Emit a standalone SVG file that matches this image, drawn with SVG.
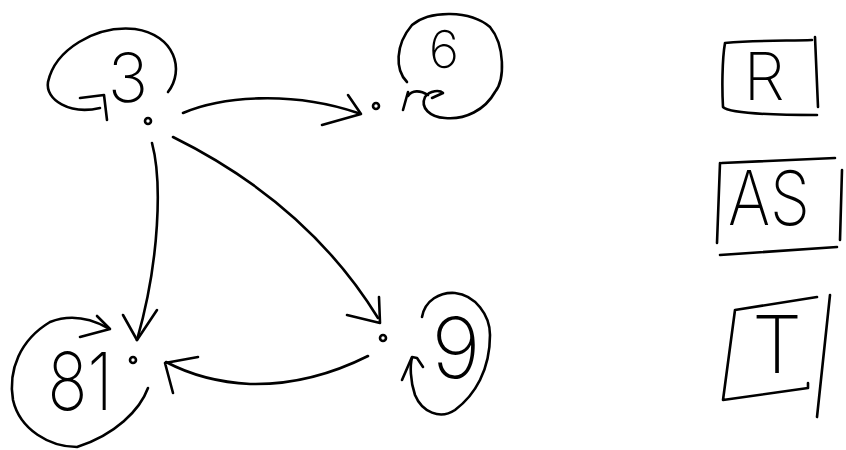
<svg xmlns="http://www.w3.org/2000/svg" width="846" height="450" viewBox="0 0 846 450">
<style>
.s{fill:none;stroke:#000;stroke-width:2.6;stroke-linecap:round;stroke-linejoin:round}
.d{fill:#fff;stroke:#000;stroke-width:2.6}
.t{font-family:Inter,"Liberation Sans",sans-serif;font-weight:200;fill:#000;text-anchor:middle}
</style>
<rect width="846" height="450" fill="#fff"/>
<g id="connectors">
<path class="s" d="M168,92 C185,70 175,35 135,29 C95,25 55,50 48,82 C45,100 70,115 100,108"/>
<path class="s" d="M80,98 L104,95 L107,120"/>
<path class="s" d="M183,113 C220,97 290,90 358,113"/>
<path class="s" d="M348,95 L361,114 L322,125"/>
<path class="s" d="M407,82 C395,70 395,45 412,25 C430,10 470,10 490,27 C505,45 505,80 495,92 C485,110 465,120 445,118 C430,117 420,108 425,97 C430,90 440,90 443,93 L432,98"/>
<path class="s" d="M403,110 L408,92 M408,96 C412,90 420,90 428,95"/>
<path class="s" d="M152,143 C162,180 160,260 137,340"/>
<path class="s" d="M123,315 L137,340 L157,310"/>
<path class="s" d="M148,388 C140,410 115,435 77,447 C50,447 20,430 13,400 C8,370 20,340 50,322 C70,314 90,318 108,328"/>
<path class="s" d="M97,316 L110,329 L80,337"/>
<path class="s" d="M173,137 C260,180 330,240 378,318"/>
<path class="s" d="M347,315 L380,323 L379,297"/>
<path class="s" d="M368,356 C330,375 290,385 250,384 C210,382 185,372 166,362"/>
<path class="s" d="M198,357 L165,363 L173,393"/>
<path class="s" d="M422,317 C425,300 440,292 455,293 C475,295 490,315 490,335 C490,370 475,395 455,410 C440,420 422,412 415,395 C410,380 410,365 412,358"/>
<path class="s" d="M402,380 L412,357 L417,358 L423,367"/>
</g>
<g id="node-3">
<circle class="d" cx="148" cy="121" r="3"/>
<text class="t" x="128" y="102" font-size="68">3</text>
</g>
<g id="node-6">
<circle class="d" cx="376" cy="106" r="3"/>
<text class="t" x="444" y="68" font-size="52">6</text>
</g>
<g id="node-9">
<circle class="d" cx="383" cy="338" r="3"/>
<text class="t" x="456" y="378" font-size="84">9</text>
</g>
<g id="node-81">
<circle class="d" cx="133" cy="360" r="3"/>
<text class="t" x="80" y="410" font-size="80" textLength="65" lengthAdjust="spacingAndGlyphs">81</text>
</g>
<g id="legend-R">
<path class="s" d="M725,43 C760,40 790,41 812,40 M725,43 C722,60 722,90 723,107 C730,114 780,115 817,115 M815,37 L818,107"/>
<text class="t" x="764" y="100" font-size="66">R</text>
</g>
<g id="legend-AS">
<path class="s" d="M722,163 L835,158 M720,163 L717,243 M720,255 L837,247 M842,170 L840,240"/>
<text class="t" x="769" y="225" font-size="75" textLength="82" lengthAdjust="spacingAndGlyphs">AS</text>
</g>
<g id="legend-T">
<path class="s" d="M735,310 L817,297 M735,310 L723,400 L808,388 L808,383 M830,295 L817,417"/>
<text class="t" x="777" y="373" font-size="80">T</text>
</g>
</svg>
